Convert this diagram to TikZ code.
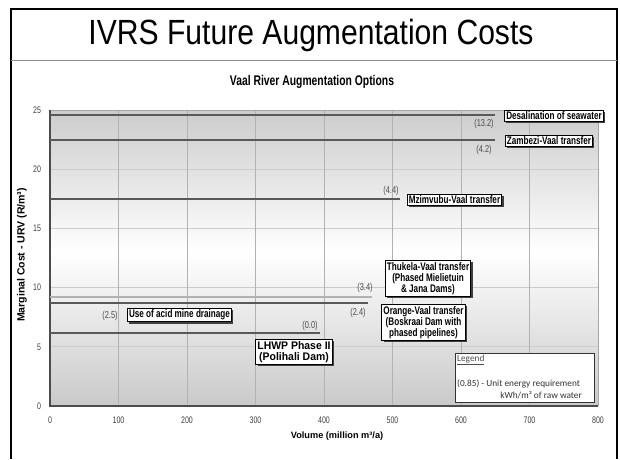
\documentclass[tikz,border=0pt]{standalone}
\usepackage{fontspec}
\setmainfont{Liberation Sans}
\newfontfamily\narrowfont[FakeStretch=0.74]{Liberation Sans}
\newfontfamily\widefont[FakeStretch=0.95]{Liberation Sans}
\newfontfamily\titlefont[FakeStretch=0.86]{Liberation Sans}
\newfontfamily\legendfont{Carlito}
\usetikzlibrary{shadows}

\begin{document}
\begin{tikzpicture}[x=1pt,y=1pt,
  optbox/.style={draw=black,line width=0.8pt,fill=white,align=center,inner sep=1.6pt,
    font=\narrowfont\bfseries\fontsize{11}{11.2}\selectfont,
    drop shadow={shadow xshift=1.8pt,shadow yshift=-1.8pt,fill=black!75,opacity=1}},
  energy/.style={font=\narrowfont\fontsize{10}{10}\selectfont,text=black!70,inner sep=0pt},
  tick/.style={font=\narrowfont\fontsize{9.5}{10}\selectfont,text=black!75},
  option/.style={line width=1.8pt,draw=black!65},
  grid/.style={line width=0.9pt,draw=black!30}]
\useasboundingbox (0,0) rectangle (620,459);
\fill[white] (0,0) rectangle (620,459);

% frame and title
\draw[line width=1.6pt] (11,0) -- (11,450) -- (617,450) -- (617,0);
\draw[black!45,line width=0.8pt] (11,399) -- (617,399);
\node (title) at (311,424) {\titlefont\fontsize{35}{35}\selectfont IVRS Future Augmentation Costs};
\node[font=\narrowfont\bfseries\fontsize{14}{14}\selectfont] (charttitle) at (312,377) {Vaal River Augmentation Options};

% plot area in data units
\begin{scope}[shift={(50pt,53pt)},x=0.685pt,y=11.84pt]
\shade[top color=black!20,bottom color=white] (0,13) rectangle (800,25);
\shade[top color=white,bottom color=black!21] (0,0) rectangle (800,13);
\foreach \c in {5,10,15,20}
  \draw[grid,draw=black!20] (0,\c) -- (800,\c);
\foreach \v in {100,200,...,700}
  \draw[grid] (\v,0) -- (\v,25);
\draw[black!35,line width=1pt] (0,25) -- (800,25) -- (800,0);
\draw[black!70,line width=1.6pt] (0,25) -- (0,0) -- (800,0);
\foreach \c in {0,5,...,25}
  \node[tick,anchor=east] at (-8,\c) {\c};
\foreach \v in {0,100,...,800}
  \node[tick] at (\v,-1.2) {\v};

% option cost lines
\draw[option] (0,24.58) -- (650,24.58);
\draw[option] (0,22.47) -- (650,22.47);
\draw[option] (0,17.48) -- (511,17.48);
\draw[option,draw=black!30] (0,9.2) -- (470,9.2);
\draw[option] (0,8.7) -- (464,8.7);
\draw[option] (0,6.17) -- (394,6.17);
\end{scope}

% axis titles
\node[font=\bfseries\fontsize{9.2}{10}\selectfont] (xlabel) at (337,23) {Volume (million m³/a)};
\node[font=\bfseries\fontsize{10.5}{11}\selectfont,rotate=90] (ylabel) at (22,204) {Marginal Cost - URV (R/m³)};

% option labels
\node[optbox] (desal) at (554,343) {Desalination of seawater};
\node[optbox] (zambezi) at (549,318) {Zambezi-Vaal transfer};
\node[optbox] (mzimvubu) at (454.5,259) {Mzimvubu-Vaal transfer};
\node[optbox] (thukela) at (428,180.5) {Thukela-Vaal transfer\\(Phased Mielietuin\\\& Jana Dams)};
\node[optbox] (orange) at (423.5,136.5) {Orange-Vaal transfer\\(Boskraai Dam with\\phased pipelines)};
\node[optbox,font=\widefont\bfseries\fontsize{11}{11.2}\selectfont] (lhwp) at (294,107) {LHWP Phase II\\(Polihali Dam)};
\node[optbox] (amd) at (179.5,144) {Use of acid mine drainage};

% unit energy values
\node[energy] (edesal) at (484,335) {(13.2)};
\node[energy] (ezambezi) at (484,309) {(4.2)};
\node[energy] (emzimvubu) at (391,268) {(4.4)};
\node[energy] (ethukela) at (365,171) {(3.4)};
\node[energy] (eorange) at (358,146) {(2.4)};
\node[energy] (elhwp) at (310,133) {(0.0)};
\node[energy] (eamd) at (110,143) {(2.5)};

% legend
\draw[black!80,line width=0.8pt,fill=white,drop shadow={shadow xshift=1.2pt,shadow yshift=-1.2pt,fill=black!35,opacity=1}] (455,57) rectangle (594,106);
\node[font=\legendfont\fontsize{9.3}{10}\selectfont,text=black!70,anchor=west,inner sep=0pt] (legtitle) at (457,99) {\underline{Legend}};
\node[font=\legendfont\fontsize{9.3}{10}\selectfont,text=black!80,anchor=west,inner sep=0pt] (legline1) at (457,75) {(0.85) - Unit energy requirement};
\node[font=\legendfont\fontsize{9.3}{10}\selectfont,text=black!80,anchor=east,inner sep=0pt] (legline2) at (582,64) {kWh/m³ of raw water};
\end{tikzpicture}
\end{document}
